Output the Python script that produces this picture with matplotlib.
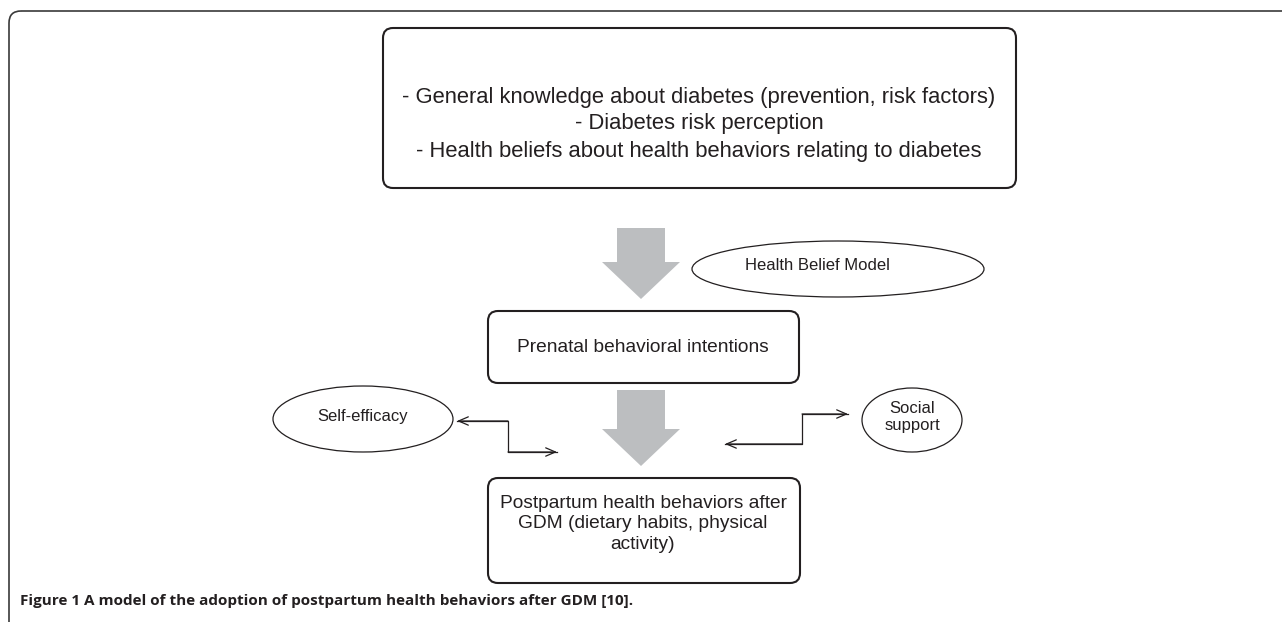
import matplotlib
matplotlib.use("Agg")
import matplotlib.pyplot as plt
from matplotlib.patches import FancyBboxPatch, Ellipse, FancyArrow

# texts of the model
top_lines = ["- General knowledge about diabetes (prevention, risk factors)",
             "- Diabetes risk perception",
             "- Health beliefs about health behaviors relating to diabetes"]
mid_text = "Prenatal behavioral intentions"
bottom_text = "Postpartum health behaviors after\nGDM (dietary habits, physical\nactivity)"
ellipse_labels = ["Health Belief Model", "Self-efficacy", "Social\nsupport"]
caption_bold = "Figure 1"
caption_rest = " A model of the adoption of postpartum health behaviors after GDM [10]."

INK = "#231f20"
ARROW_GREY = "#bcbec0"
DIAG_FONT = ["Liberation Sans", "DejaVu Sans"]
CAP_FONT = ["Open Sans", "DejaVu Sans"]

fig = plt.figure(figsize=(12.82, 6.22), dpi=100)
ax = fig.add_axes([0, 0, 1, 1])
ax.set_xlim(0, 1282)
ax.set_ylim(622, 0)
ax.axis("off")

# outer frame (only top + left visible, rounded top-left corner)
frame = FancyBboxPatch((9, 11), 1320, 650, boxstyle="round,pad=0,rounding_size=12",
                       fc="none", ec="#3a3a3a", lw=1.2)
ax.add_patch(frame)

def rbox(x0, y0, x1, y1):
    b = FancyBboxPatch((x0, y0), x1 - x0, y1 - y0,
                       boxstyle="round,pad=0,rounding_size=10",
                       fc="white", ec=INK, lw=1.5)
    ax.add_patch(b)

# boxes
rbox(383, 28, 1016, 188)
rbox(488, 311, 799, 383)
rbox(488, 478, 800, 583)

for i, line in enumerate(top_lines):
    ax.text(699, 97 + i * 27, line, ha="center", va="center", fontsize=15.8,
            color=INK, family=DIAG_FONT)
ax.text(643, 347, mid_text, ha="center", va="center", fontsize=13.8,
        color=INK, family=DIAG_FONT)
ax.text(643, 524, bottom_text, ha="center", va="center", fontsize=13.8,
        color=INK, family=DIAG_FONT, linespacing=1.25)

# big grey arrows
for y0, y1 in [(228, 299), (390, 466)]:
    ax.add_patch(FancyArrow(641, y0, 0, y1 - y0, width=48, head_width=78,
                            head_length=37, length_includes_head=True,
                            fc=ARROW_GREY, ec="none"))

# ellipses: centre, size, label offset
ell = [(838, 269, 292, 56, -21), (363, 419, 180, 66, 0), (912, 420, 100, 64, 0)]
for (cx, cy, w, h, dx), lab in zip(ell, ellipse_labels):
    ax.add_patch(Ellipse((cx, cy), w, h, fc="white", ec=INK, lw=0.9))
    ax.text(cx + dx, cy - 3, lab, ha="center", va="center", fontsize=12,
            color=INK, family=DIAG_FONT, linespacing=1.2)

# elbow connectors with open arrow heads
def elbow(pts):
    xs = [p[0] for p in pts]
    ys = [p[1] for p in pts]
    ax.plot(xs, ys, color=INK, lw=0.9)
    for a, b in [(pts[1], pts[0]), (pts[-2], pts[-1])]:
        ax.annotate("", xy=b, xytext=a,
                    arrowprops=dict(arrowstyle="->,head_length=0.7,head_width=0.3",
                                    color=INK, lw=0.9, shrinkA=0, shrinkB=0))

elbow([(457, 421), (508, 421), (508, 452), (557, 452)])
elbow([(725, 444), (802, 444), (802, 414), (848, 414)])

# caption
t1 = ax.text(20, 601, caption_bold, ha="left", va="center", fontsize=11,
             fontweight="bold", color=INK, family=CAP_FONT)
ax.annotate(caption_rest, xy=(1, 0), xycoords=t1, ha="left", va="bottom",
            fontsize=11, fontweight="bold", color=INK, family=CAP_FONT)

fig.savefig("out.png", dpi=100)
